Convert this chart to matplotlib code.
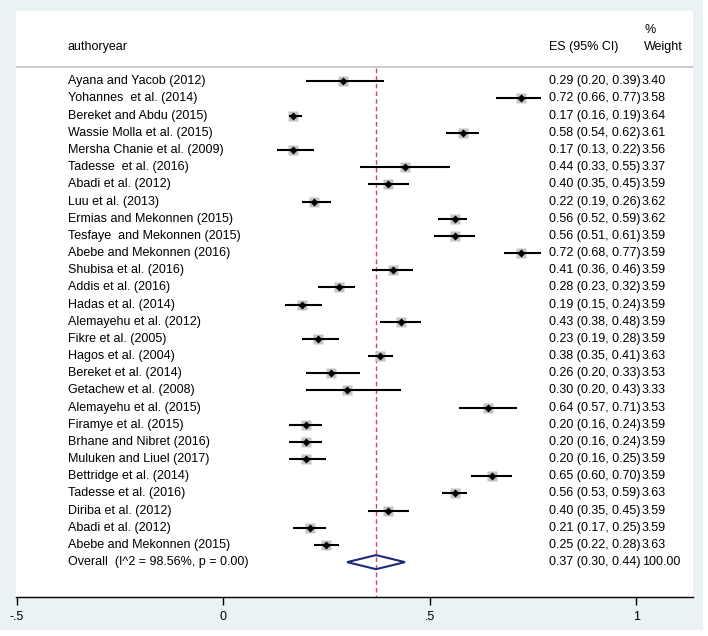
import numpy as np
import matplotlib
matplotlib.use("Agg")
from matplotlib import pyplot as plt
from matplotlib.patches import Polygon, Rectangle

plt.rcParams['font.family'] = ['Liberation Sans', 'DejaVu Sans']

# Studies as listed in the forest plot (top to bottom)
studies = ["Ayana and Yacob (2012)", "Yohannes  et al. (2014)", "Bereket and Abdu (2015)",
           "Wassie Molla et al. (2015)", "Mersha Chanie et al. (2009)", "Tadesse  et al. (2016)",
           "Abadi et al. (2012)", "Luu et al. (2013)", "Ermias and Mekonnen (2015)",
           "Tesfaye  and Mekonnen (2015)", "Abebe and Mekonnen (2016)", "Shubisa et al. (2016)",
           "Addis et al. (2016)", "Hadas et al. (2014)", "Alemayehu et al. (2012)",
           "Fikre et al. (2005)", "Hagos et al. (2004)", "Bereket et al. (2014)",
           "Getachew et al. (2008)", "Alemayehu et al. (2015)", "Firamye et al. (2015)",
           "Brhane and Nibret (2016)", "Muluken and Liuel (2017)", "Bettridge et al. (2014)",
           "Tadesse et al. (2016)", "Diriba et al. (2012)", "Abadi et al. (2012)",
           "Abebe and Mekonnen (2015)"]
es = [0.29, 0.72, 0.17, 0.58, 0.17, 0.44, 0.40, 0.22, 0.56, 0.56, 0.72, 0.41, 0.28, 0.19,
      0.43, 0.23, 0.38, 0.26, 0.30, 0.64, 0.20, 0.20, 0.20, 0.65, 0.56, 0.40, 0.21, 0.25]
ci_lo = [0.20, 0.66, 0.16, 0.54, 0.13, 0.33, 0.35, 0.19, 0.52, 0.51, 0.68, 0.36, 0.23, 0.15,
         0.38, 0.19, 0.35, 0.20, 0.20, 0.57, 0.16, 0.16, 0.16, 0.60, 0.53, 0.35, 0.17, 0.22]
ci_hi = [0.39, 0.77, 0.19, 0.62, 0.22, 0.55, 0.45, 0.26, 0.59, 0.61, 0.77, 0.46, 0.32, 0.24,
         0.48, 0.28, 0.41, 0.33, 0.43, 0.71, 0.24, 0.24, 0.25, 0.70, 0.59, 0.45, 0.25, 0.28]
weights = [3.40, 3.58, 3.64, 3.61, 3.56, 3.37, 3.59, 3.62, 3.62, 3.59, 3.59, 3.59, 3.59, 3.59,
           3.59, 3.59, 3.63, 3.53, 3.33, 3.53, 3.59, 3.59, 3.59, 3.59, 3.63, 3.59, 3.59, 3.63]

overall_label = "Overall  (I^2 = 98.56%, p = 0.00)"
overall_es, overall_lo, overall_hi = 0.37, 0.30, 0.44
overall_weight = 100.00

xticks = [-0.5, 0, 0.5, 1]
xtick_labels = ["-.5", "0", ".5", "1"]

W, H = 708, 636
fig = plt.figure(figsize=(W / 100, H / 100), dpi=100, facecolor='white')
# light Stata-like graph region
fig.patches.append(Rectangle((0, 1 - 630 / H), 703 / W, 630 / H, transform=fig.transFigure,
                             facecolor='#eaf2f3', edgecolor='none', zorder=-5))

ax = fig.add_axes([16 / W, 1 - 597 / H, (693 - 16) / W, (597 - 11) / H])
ax.set_zorder(2)
ax.set_facecolor('white')
ax.set_xlim(-0.5017, 1.1373)
n = len(studies)
ax.set_ylim(30.03, -4.094)

for s in ['top', 'left', 'right']:
    ax.spines[s].set_visible(False)
ax.spines['bottom'].set_linewidth(1.0)
ax.set_yticks([])
ax.set_xticks(xticks)
ax.set_xticklabels(xtick_labels, fontsize=9)
ax.tick_params(axis='x', length=6, width=1.0, pad=4)

fs = 9
x_lab, x_es, x_w = -0.376, 0.7886, 1.0138

# header
ax.text(x_lab, -2.0, "authoryear", fontsize=fs, va='center', ha='left')
ax.text(x_es, -2.0, "ES (95% CI)", fontsize=fs, va='center', ha='left')
ax.text(x_w + 0.005, -2.0, "Weight", fontsize=fs, va='center', ha='left')
ax.text(x_w + 0.005, -2.99, "%", fontsize=fs, va='center', ha='left')
ax.axhline(-0.833, color='#c2c2c2', lw=1.2)

# overall line
ax.vlines(overall_es, -0.78, 30.03, color='#b4555d', lw=1.0, linestyles=(0, (3.3, 2.2)))

rows = np.arange(n)
for i in rows:
    ax.plot([ci_lo[i], ci_hi[i]], [i, i], color='black', lw=1.5, solid_capstyle='butt', zorder=3)
    ax.plot(es[i], i, marker='s', ms=7.0 * np.sqrt(weights[i] / 3.64), color='#c4c4c4',
            mec='none', zorder=2)
    ax.plot(es[i], i, marker='D', ms=3.6, color='black', mec='none', zorder=4)
    ax.text(x_lab, i, studies[i], fontsize=fs, va='center', ha='left')
    ax.text(x_es, i, "%.2f (%.2f, %.2f)" % (es[i], ci_lo[i], ci_hi[i]), fontsize=fs,
            va='center', ha='left')
    ax.text(x_w, i, "%.2f" % weights[i], fontsize=fs, va='center', ha='left')

# overall diamond
yo = n
h = 0.41
ax.add_patch(Polygon([(overall_lo, yo), (overall_es, yo - h), (overall_hi, yo), (overall_es, yo + h)],
                     closed=True, facecolor='none', edgecolor='#1b2a7c', lw=1.5, zorder=4))
ax.text(x_lab, yo, overall_label, fontsize=fs, va='center', ha='left')
ax.text(x_es, yo, "%.2f (%.2f, %.2f)" % (overall_es, overall_lo, overall_hi), fontsize=fs,
        va='center', ha='left')
ax.text(x_w, yo, "%.2f" % overall_weight, fontsize=fs, va='center', ha='left')

fig.savefig("out.png", dpi=100, facecolor=fig.get_facecolor())
